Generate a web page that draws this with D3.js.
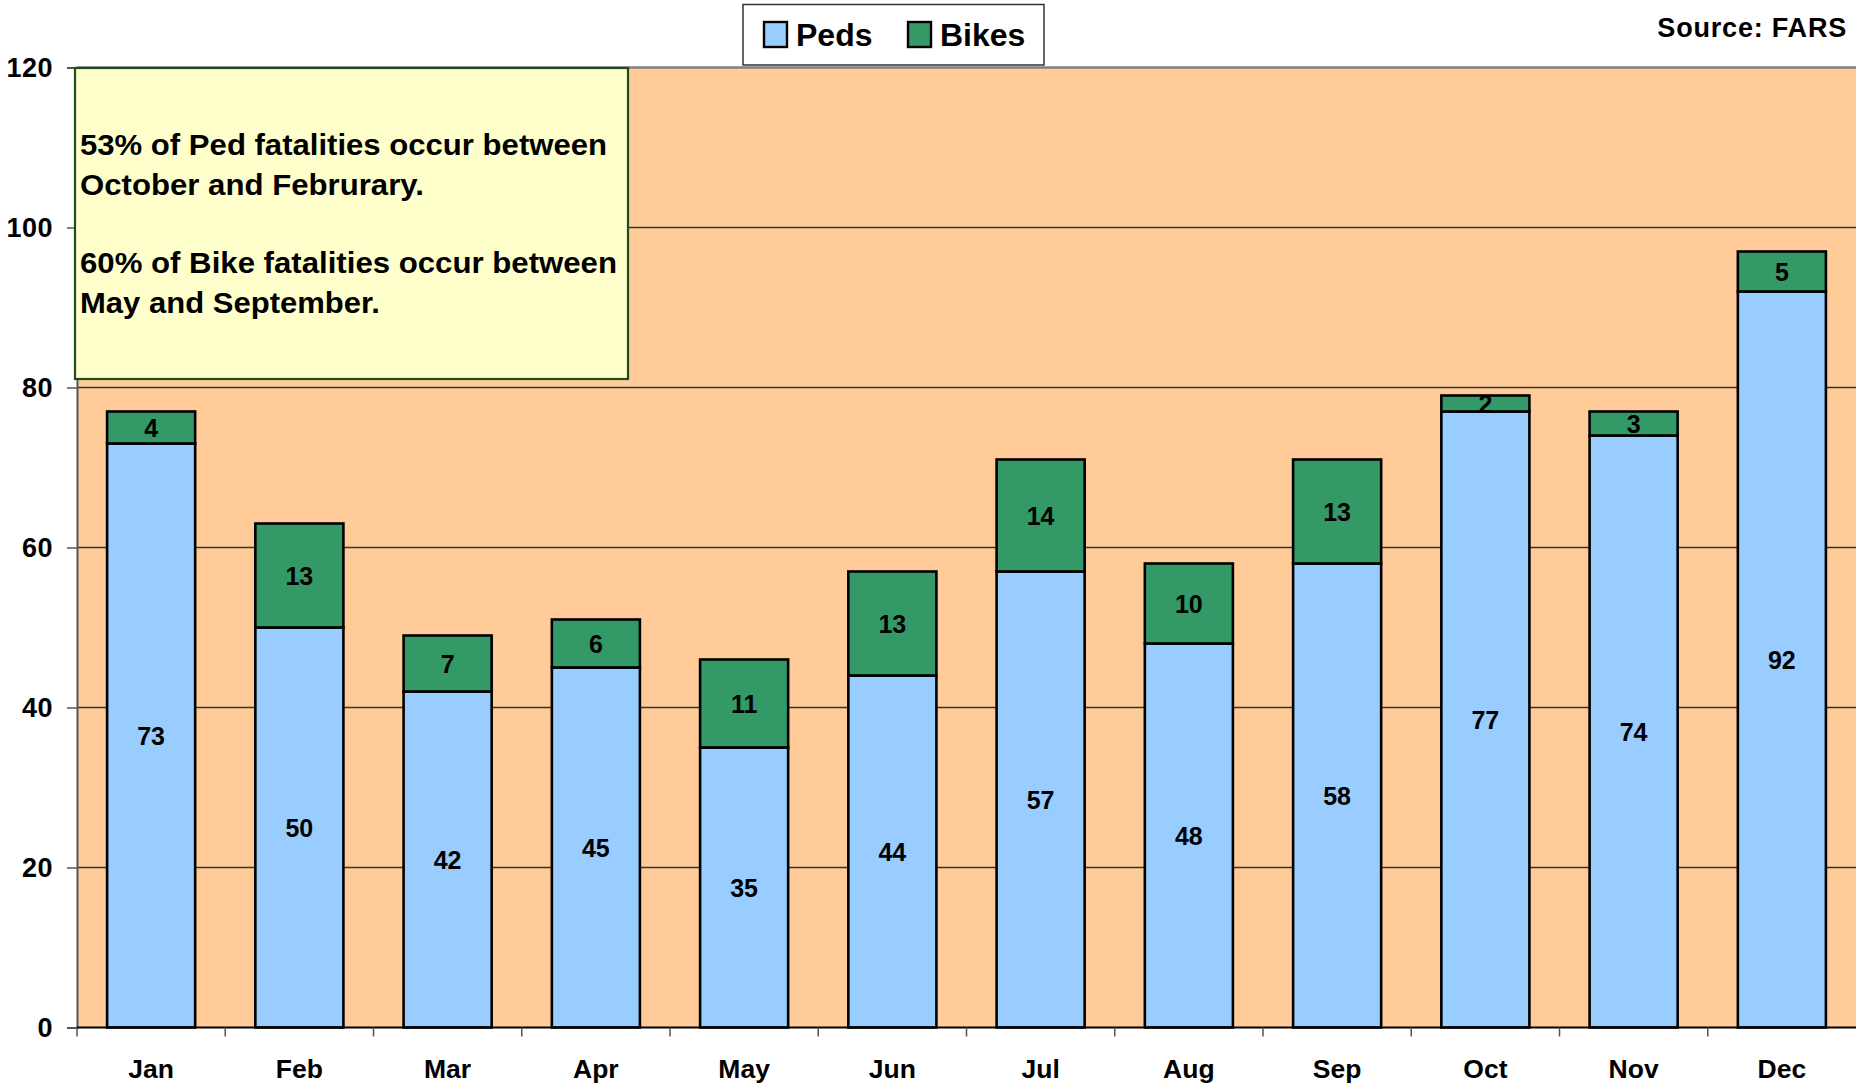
<!DOCTYPE html>
<html>
<head>
<meta charset="utf-8">
<script src="https://cdn.jsdelivr.net/npm/d3@7"></script>
<style>
  html, body { margin: 0; padding: 0; background: #ffffff; }
  svg { display: block; }
  text { font-family: "Liberation Sans", Arial, sans-serif; font-weight: bold; fill: #000; }
</style>
</head>
<body>
<svg id="chart" width="1856" height="1084"></svg>
<script>
const months = ["Jan","Feb","Mar","Apr","May","Jun","Jul","Aug","Sep","Oct","Nov","Dec"];
const peds  = [73, 50, 42, 45, 35, 44, 57, 48, 58, 77, 74, 92];
const bikes = [4, 13, 7, 6, 11, 13, 14, 10, 13, 2, 3, 5];
const seriesNames = ["Peds", "Bikes"];
const seriesColors = ["#99CCFF", "#339966"];
const yTicks = [0, 20, 40, 60, 80, 100, 120];
const noteLines = [
  "53% of Ped fatalities occur between",
  "October and Februrary.",
  "",
  "60% of Bike fatalities occur between",
  "May and September."
];
const sourceText = "Source: FARS";

const svg = d3.select("#chart");
const L = 77, R = 1856, T = 67.5, B = 1027.5;

const x = d3.scaleBand().domain(months).range([L, R]).paddingInner(0.406).paddingOuter(0.203);
const y = d3.scaleLinear().domain([0, 120]).range([B, T]);

// plot background
svg.append("rect").attr("x", L).attr("y", T).attr("width", R - L).attr("height", B - T).attr("fill", "#FFCC99");

// gridlines
svg.append("g").selectAll("line").data(yTicks.filter(d => d > 0 && d < 120)).join("line")
  .attr("x1", L).attr("x2", R).attr("y1", d => y(d)).attr("y2", d => y(d))
  .attr("stroke", "#333").attr("stroke-width", 1.4);
// top border
svg.append("line").attr("x1", L).attr("x2", R).attr("y1", y(120)).attr("y2", y(120))
  .attr("stroke", "#808080").attr("stroke-width", 2.5);

// stacked data
const stackData = months.map((m, i) => ({ month: m, Peds: peds[i], Bikes: bikes[i] }));
const stacked = d3.stack().keys(seriesNames)(stackData);

const gBars = svg.append("g");
stacked.forEach((layer, li) => {
  gBars.append("g").selectAll("rect").data(layer).join("rect")
    .attr("x", d => x(d.data.month))
    .attr("width", x.bandwidth())
    .attr("y", d => y(d[1]))
    .attr("height", d => y(d[0]) - y(d[1]))
    .attr("fill", seriesColors[li])
    .attr("stroke", "#000").attr("stroke-width", 2.6);
});
stacked.forEach((layer, li) => {
  gBars.append("g").selectAll("text").data(layer).join("text")
    .attr("x", d => x(d.data.month) + x.bandwidth() / 2)
    .attr("y", d => (y(d[0]) + y(d[1])) / 2)
    .attr("text-anchor", "middle").attr("dominant-baseline", "central")
    .attr("font-size", 25)
    .text(d => d[1] - d[0]);
});

// y axis
const yAxis = d3.axisLeft(y).tickValues(yTicks).tickSize(10).tickPadding(14);
const gy = svg.append("g").attr("transform", `translate(${L},0)`).call(yAxis);
gy.select(".domain").attr("stroke", "#555").attr("stroke-width", 2);
gy.selectAll(".tick line").attr("stroke", "#555").attr("stroke-width", 1.5);
gy.selectAll(".tick text").attr("font-size", 27).attr("font-family", "Liberation Sans, Arial, sans-serif")
  .attr("font-weight", "bold").attr("fill", "#000").attr("letter-spacing", 0.5);

// x axis
const gx = svg.append("g").attr("transform", `translate(0,${B})`);
gx.append("line").attr("x1", L).attr("x2", R).attr("y1", 0).attr("y2", 0).attr("stroke", "#000").attr("stroke-width", 2);
const boundaries = months.map(m => x(m) - x.step() * x.paddingOuter());
gx.selectAll("line.tk").data(boundaries).join("line").attr("class", "tk")
  .attr("x1", d => d).attr("x2", d => d).attr("y1", 0).attr("y2", 9)
  .attr("stroke", "#555").attr("stroke-width", 1.5);
gx.selectAll("text").data(months).join("text")
  .attr("x", d => x(d) + x.bandwidth() / 2).attr("y", 50)
  .attr("text-anchor", "middle").attr("font-size", 26.5)
  .text(d => d);

// annotation box
const note = svg.append("g");
note.append("rect").attr("x", 75).attr("y", 68).attr("width", 553).attr("height", 311)
  .attr("fill", "#FFFFCC").attr("stroke", "#1E4A1E").attr("stroke-width", 2.2);
const noteWidths = [527, 344, 0, 537, 300];
const noteY = [155, 195, 0, 273, 313];
noteLines.forEach((t, i) => {
  if (!t) return;
  note.append("text").attr("x", 80).attr("y", noteY[i]).attr("font-size", 29)
    .attr("textLength", noteWidths[i]).attr("lengthAdjust", "spacingAndGlyphs").text(t);
});

// legend
const lg = svg.append("g");
lg.append("rect").attr("x", 743).attr("y", 4.5).attr("width", 301).attr("height", 60.5)
  .attr("fill", "#fff").attr("stroke", "#333").attr("stroke-width", 1.5);
const legendX = [764, 908];
seriesNames.forEach((s, i) => {
  lg.append("rect").attr("x", legendX[i]).attr("y", 22).attr("width", 23).attr("height", 25)
    .attr("fill", seriesColors[i]).attr("stroke", "#000").attr("stroke-width", 2.4);
  lg.append("text").attr("x", legendX[i] + 32).attr("y", 46).attr("font-size", 32).text(s);
});

// source
svg.append("text").attr("x", 1847).attr("y", 37).attr("text-anchor", "end").attr("font-size", 27)
  .attr("letter-spacing", 0.8).text(sourceText);
</script>
</body>
</html>
